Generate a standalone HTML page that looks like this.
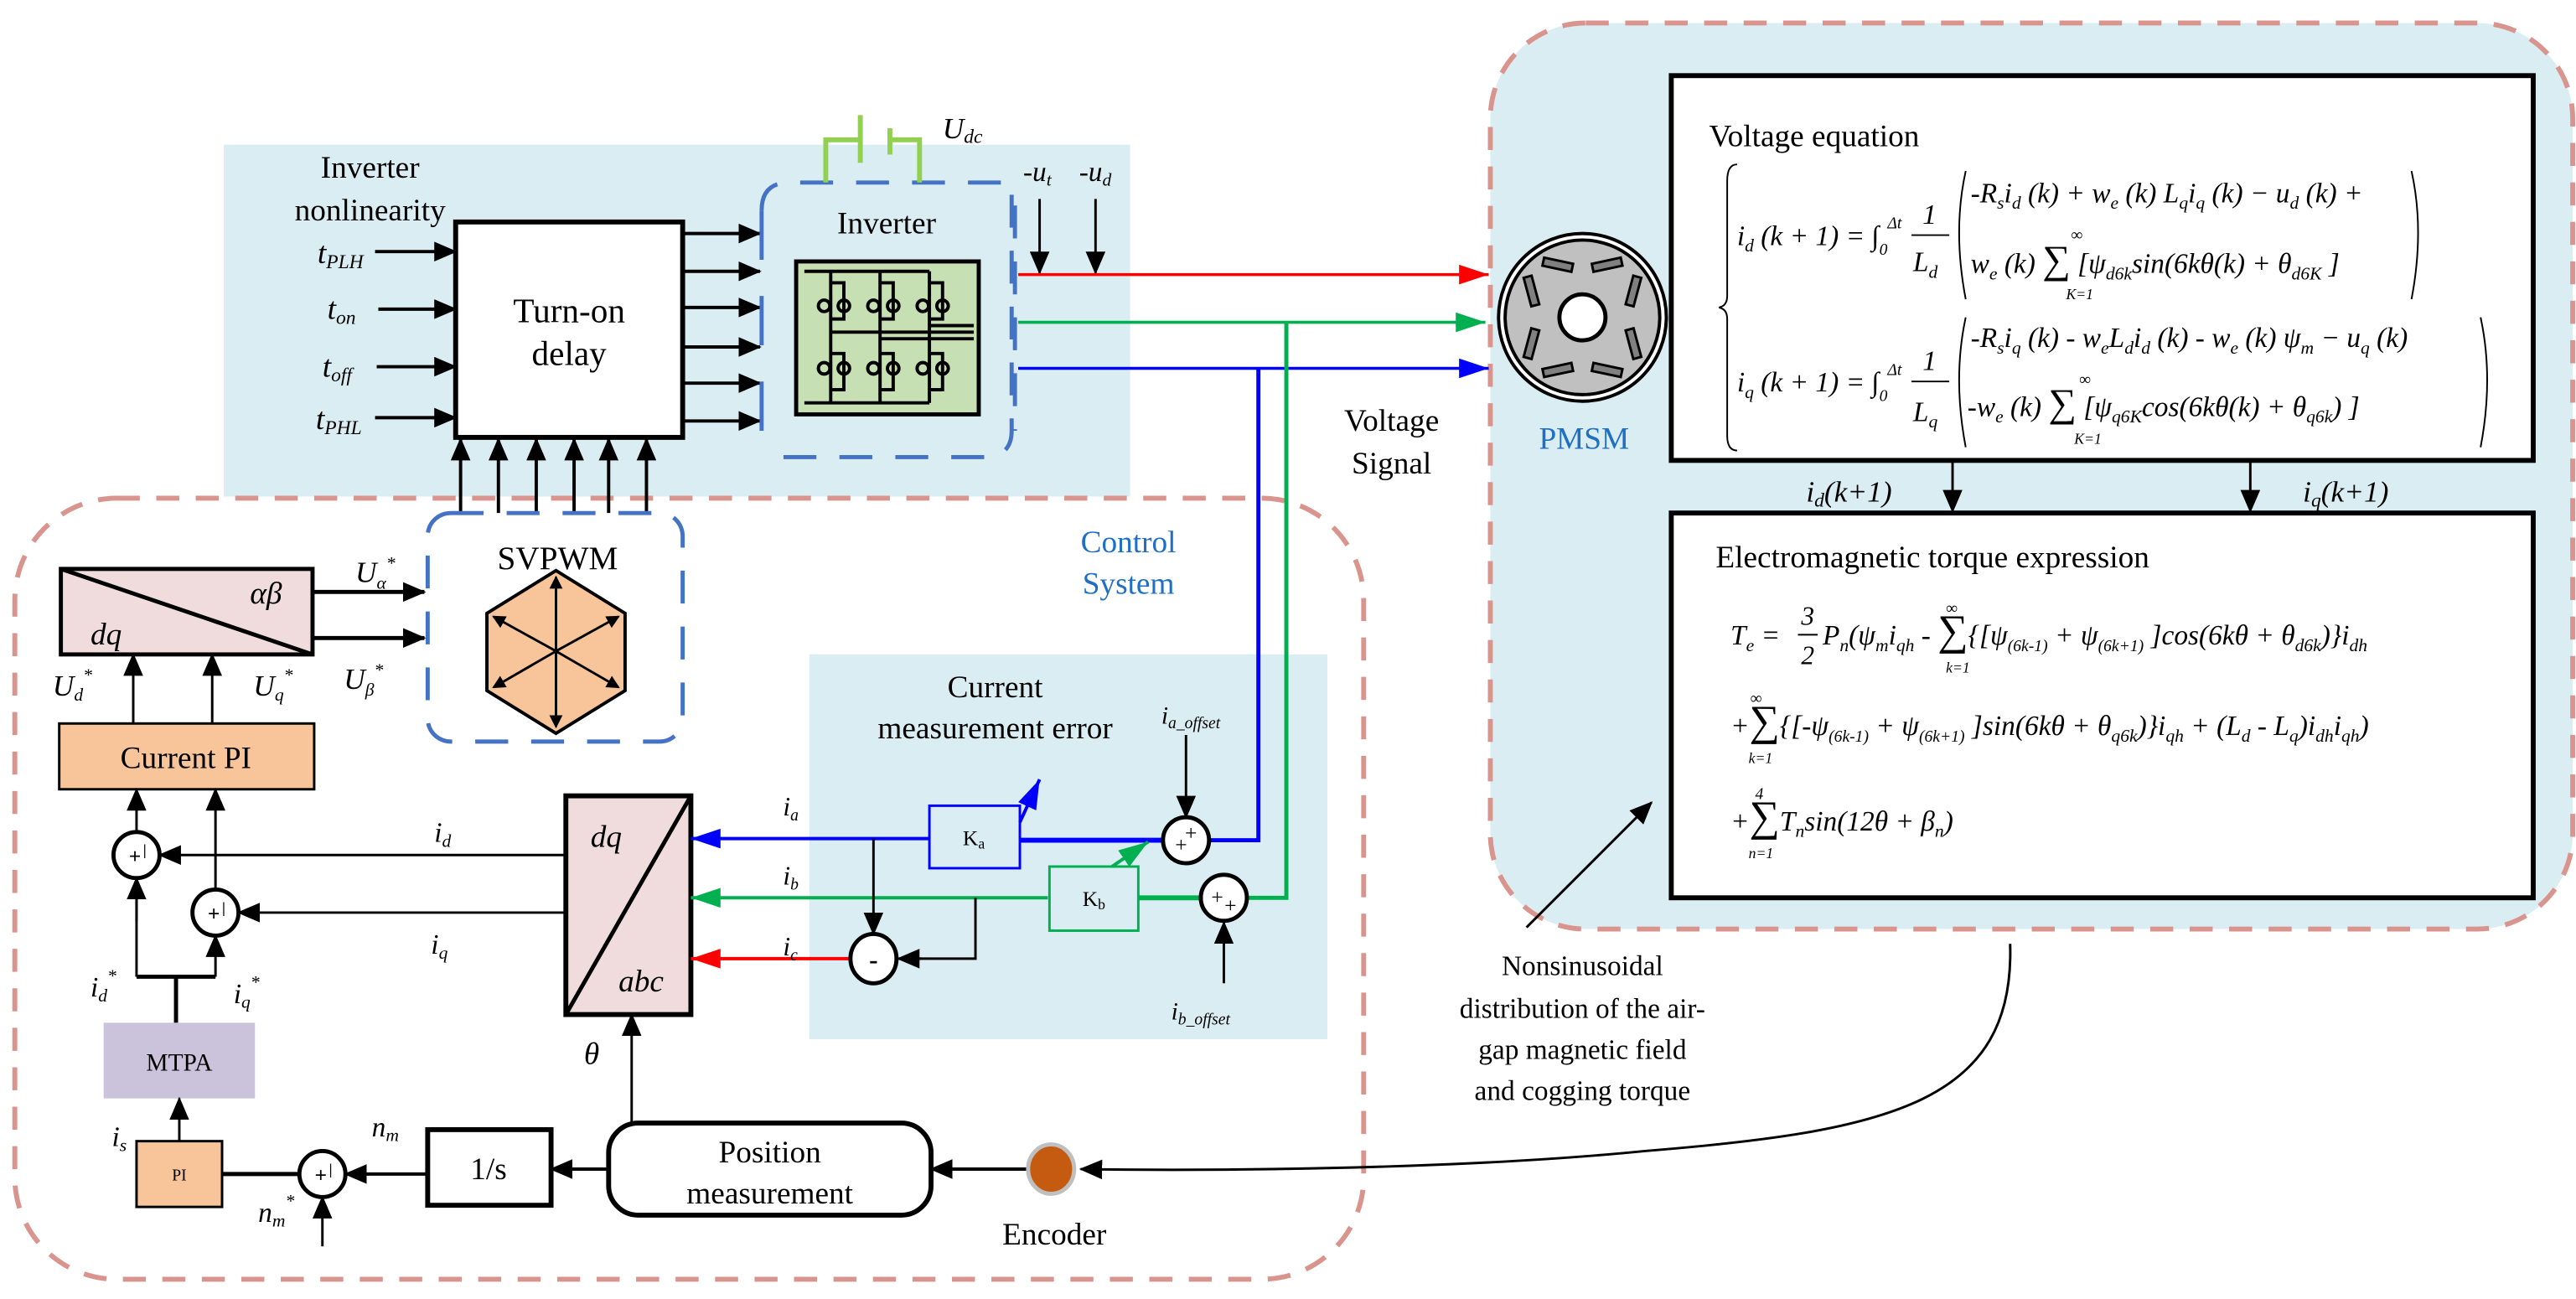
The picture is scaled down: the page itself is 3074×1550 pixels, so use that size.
<!DOCTYPE html>
<html><head><meta charset="utf-8"><style>
html,body{margin:0;padding:0;background:#fff;}
svg{display:block;}
text{font-family:"Liberation Serif",serif;fill:#000;}
.it{font-style:italic;}
</style></head><body>
<svg width="3074" height="1550" viewBox="0 0 1566 790" preserveAspectRatio="none" xmlns="http://www.w3.org/2000/svg">
<defs>
<marker id="ab" markerUnits="userSpaceOnUse" markerWidth="14" markerHeight="12" refX="13" refY="6" orient="auto"><path d="M0,0 L14,6 L0,12 z" fill="#000"/></marker>
<marker id="as" markerUnits="userSpaceOnUse" markerWidth="10" markerHeight="8" refX="10" refY="4" orient="auto"><path d="M0,0 L10,4 L0,8 z" fill="#000"/></marker>
<marker id="ar" markerUnits="userSpaceOnUse" markerWidth="18" markerHeight="12" refX="18" refY="6" orient="auto"><path d="M0,0 L18,6 L0,12 z" fill="#ff0000"/></marker>
<marker id="ag" markerUnits="userSpaceOnUse" markerWidth="18" markerHeight="12" refX="18" refY="6" orient="auto"><path d="M0,0 L18,6 L0,12 z" fill="#00b050"/></marker>
<marker id="abl" markerUnits="userSpaceOnUse" markerWidth="18" markerHeight="12" refX="18" refY="6" orient="auto"><path d="M0,0 L18,6 L0,12 z" fill="#0000ff"/></marker>
<marker id="ak" markerUnits="userSpaceOnUse" markerWidth="8" markerHeight="8" refX="7" refY="4" orient="auto"><path d="M0,0 L8,4 L0,8 z" fill="#000"/></marker>
</defs>

<!-- panels -->
<rect x="136" y="88" width="551" height="214" fill="#daedf3"/>
<rect x="492" y="398" width="315" height="234" fill="#daedf3"/>
<rect x="906" y="14" width="658" height="551" rx="58" fill="#daedf3" stroke="#d9948e" stroke-width="3" stroke-dasharray="14 10"/>
<rect x="9" y="303" width="820" height="475" rx="62" fill="none" stroke="#d9948e" stroke-width="3" stroke-dasharray="14 10"/>

<!-- Inverter nonlinearity -->
<text x="225" y="108" font-size="19" text-anchor="middle">Inverter</text>
<text x="225" y="134" font-size="19" text-anchor="middle">nonlinearity</text>
<rect x="277" y="135" width="138" height="131" fill="#fff" stroke="#000" stroke-width="3"/>
<text x="346" y="196" font-size="21" text-anchor="middle">Turn-on</text>
<text x="346" y="222" font-size="21" text-anchor="middle">delay</text>
<g stroke="#000" stroke-width="2">
<line x1="228" y1="153" x2="277" y2="153" marker-end="url(#ab)"/>
<line x1="230" y1="188" x2="277" y2="188" marker-end="url(#ab)"/>
<line x1="229" y1="223" x2="277" y2="223" marker-end="url(#ab)"/>
<line x1="228" y1="254" x2="277" y2="254" marker-end="url(#ab)"/>
<line x1="415" y1="142" x2="462" y2="142" marker-end="url(#ab)"/>
<line x1="415" y1="165" x2="462" y2="165" marker-end="url(#ab)"/>
<line x1="415" y1="187" x2="462" y2="187" marker-end="url(#ab)"/>
<line x1="415" y1="211" x2="462" y2="211" marker-end="url(#ab)"/>
<line x1="415" y1="233" x2="462" y2="233" marker-end="url(#ab)"/>
<line x1="415" y1="256" x2="462" y2="256" marker-end="url(#ab)"/>
<line x1="280" y1="312" x2="280" y2="267" marker-end="url(#ab)"/>
<line x1="303" y1="312" x2="303" y2="267" marker-end="url(#ab)"/>
<line x1="326" y1="312" x2="326" y2="267" marker-end="url(#ab)"/>
<line x1="349" y1="312" x2="349" y2="267" marker-end="url(#ab)"/>
<line x1="370" y1="312" x2="370" y2="267" marker-end="url(#ab)"/>
<line x1="393" y1="312" x2="393" y2="267" marker-end="url(#ab)"/>
</g>
<text x="193" y="160" font-size="19" class="it">t<tspan font-size="12" dy="3">PLH</tspan></text>
<text x="199" y="194" font-size="19" class="it">t<tspan font-size="12" dy="3">on</tspan></text>
<text x="196" y="229" font-size="19" class="it">t<tspan font-size="12" dy="3">off</tspan></text>
<text x="192" y="261" font-size="19" class="it">t<tspan font-size="12" dy="3">PHL</tspan></text>

<!-- Inverter -->
<path d="M463,128 Q463,111 480,111 L615,111 L615,262 Q615,278 598,278 L476,278" fill="none" stroke="#4472c4" stroke-width="2.5" stroke-dasharray="20 14"/>
<line x1="463" y1="128" x2="463" y2="278" stroke="#4472c4" stroke-width="2.5" stroke-dasharray="30 22"/>
<g stroke="#92d050" stroke-width="3" fill="none">
<path d="M502,111 L502,85 L523,85"/><line x1="523" y1="70" x2="523" y2="99"/>
<path d="M559,111 L559,85 L541,85"/><line x1="541" y1="78" x2="541" y2="94"/>
</g>
<text x="573" y="84" font-size="18" class="it">U<tspan font-size="12" dy="3">dc</tspan></text>
<text x="539" y="142" font-size="19" text-anchor="middle">Inverter</text>
<rect x="484" y="159" width="111" height="93" fill="#c6e0b4" stroke="#000" stroke-width="2.5"/>
<g stroke="#000" stroke-width="2" fill="none">
<line x1="489" y1="165" x2="565" y2="165"/><line x1="489" y1="245" x2="565" y2="245"/>
<line x1="505" y1="165" x2="505" y2="245"/><line x1="535" y1="165" x2="535" y2="245"/><line x1="565" y1="165" x2="565" y2="245"/>
<line x1="505" y1="202" x2="592" y2="202"/><line x1="535" y1="206" x2="592" y2="206"/><line x1="565" y1="198" x2="592" y2="198"/>
<path d="M505,172 h8 v22 h-8"/><path d="M535,172 h8 v22 h-8"/><path d="M565,172 h8 v22 h-8"/>
<path d="M505,215 h8 v22 h-8"/><path d="M535,215 h8 v22 h-8"/><path d="M565,215 h8 v22 h-8"/>
<circle cx="501" cy="186" r="3.5"/><circle cx="513" cy="186" r="3.5"/><circle cx="531" cy="186" r="3.5"/><circle cx="543" cy="186" r="3.5"/><circle cx="561" cy="186" r="3.5"/><circle cx="573" cy="186" r="3.5"/>
<circle cx="501" cy="224" r="3.5"/><circle cx="513" cy="224" r="3.5"/><circle cx="531" cy="224" r="3.5"/><circle cx="543" cy="224" r="3.5"/><circle cx="561" cy="224" r="3.5"/><circle cx="573" cy="224" r="3.5"/>
</g>
<g stroke="#4472c4" stroke-width="2.5" stroke-dasharray="20 14">
<line x1="617" y1="125" x2="617" y2="262"/>
</g>
<text x="622" y="110" font-size="17" class="it">-u<tspan font-size="11" dy="3">t</tspan></text>
<text x="656" y="110" font-size="17" class="it">-u<tspan font-size="11" dy="3">d</tspan></text>
<line x1="632" y1="121" x2="632" y2="166" stroke="#000" stroke-width="1.5" marker-end="url(#ab)"/>
<line x1="666" y1="121" x2="666" y2="166" stroke="#000" stroke-width="1.5" marker-end="url(#ab)"/>

<!-- three-phase lines -->
<line x1="619" y1="167" x2="905" y2="167" stroke="#ff0000" stroke-width="1.8" marker-end="url(#ar)"/>
<line x1="619" y1="196" x2="903" y2="196" stroke="#00b050" stroke-width="1.8" marker-end="url(#ag)"/>
<line x1="619" y1="224" x2="905" y2="224" stroke="#0000ff" stroke-width="1.8" marker-end="url(#abl)"/>
<polyline points="782,196 782,546 758,546" fill="none" stroke="#00b050" stroke-width="2.5"/>
<polyline points="765,224 765,511 735,511" fill="none" stroke="#0000ff" stroke-width="2.5"/>

<text x="846" y="262" font-size="19" text-anchor="middle">Voltage</text>
<text x="846" y="288" font-size="19" text-anchor="middle">Signal</text>
<text x="686" y="336" font-size="19" text-anchor="middle" style="fill:#1f6fc5">Control</text>
<text x="686" y="361" font-size="19" text-anchor="middle" style="fill:#1f6fc5">System</text>

<!-- PMSM -->
<circle cx="962" cy="193" r="51" fill="#fff" stroke="#000" stroke-width="2"/>
<circle cx="962" cy="193" r="47" fill="#c0c0c0" stroke="#000" stroke-width="2"/>
<circle cx="962" cy="193" r="14" fill="#fff" stroke="#000" stroke-width="2.5"/>
<g fill="#808080" stroke="#000" stroke-width="1.5">
<rect x="-9" y="-2.5" width="18" height="5" transform="translate(947,161) rotate(12)"/>
<rect x="-9" y="-2.5" width="18" height="5" transform="translate(977,161) rotate(-12)"/>
<rect x="-9" y="-2.5" width="18" height="5" transform="translate(947,225) rotate(-12)"/>
<rect x="-9" y="-2.5" width="18" height="5" transform="translate(977,225) rotate(12)"/>
<rect x="-2.5" y="-9" width="5" height="18" transform="translate(931,177) rotate(-15)"/>
<rect x="-2.5" y="-9" width="5" height="18" transform="translate(931,209) rotate(15)"/>
<rect x="-2.5" y="-9" width="5" height="18" transform="translate(993,177) rotate(15)"/>
<rect x="-2.5" y="-9" width="5" height="18" transform="translate(993,209) rotate(-15)"/>
</g>
<text x="963" y="273" font-size="19" text-anchor="middle" style="fill:#1f6fc5">PMSM</text>

<!-- Voltage equation box -->
<rect x="1016" y="46" width="524" height="234" fill="#fff" stroke="#000" stroke-width="3"/>
<text x="1039" y="89" font-size="19">Voltage equation</text>
<path d="M1056,100 Q1050,100 1050,110 L1050,180 Q1050,186 1045,187 Q1050,188 1050,194 L1050,265 Q1050,274 1056,274" fill="none" stroke="#000" stroke-width="1"/>
<g font-size="17" class="it">
<text x="1056" y="149" class="it">i<tspan font-size="11" dy="4">d</tspan><tspan dy="-4"> (k + 1) = ∫</tspan><tspan font-size="10" dy="6">0</tspan><tspan font-size="10" dy="-16">Δt</tspan></text>
<text x="1173" y="136" font-size="17" text-anchor="middle">1</text>
<line x1="1162" y1="143" x2="1185" y2="143" stroke="#000"/>
<text x="1163" y="165" class="it">L<tspan font-size="11" dy="4">d</tspan></text>
<text x="1198" y="123" class="it">-R<tspan font-size="11" dy="4">s</tspan><tspan dy="-4">i</tspan><tspan font-size="11" dy="4">d</tspan><tspan dy="-4"> (k) + w</tspan><tspan font-size="11" dy="4">e</tspan><tspan dy="-4"> (k) L</tspan><tspan font-size="11" dy="4">q</tspan><tspan dy="-4">i</tspan><tspan font-size="11" dy="4">q</tspan><tspan dy="-4"> (k) − u</tspan><tspan font-size="11" dy="4">d</tspan><tspan dy="-4"> (k) +</tspan></text>
<text x="1198" y="166" class="it">w<tspan font-size="11" dy="4">e</tspan><tspan dy="-4"> (k) </tspan><tspan font-style="normal" font-size="24">∑</tspan><tspan> [ψ</tspan><tspan font-size="11" dy="4">d6k</tspan><tspan dy="-4">sin(6kθ(k) + θ</tspan><tspan font-size="11" dy="4">d6K</tspan><tspan dy="-4"> ]</tspan></text>
<text x="1196" y="253" class="it">-w<tspan font-size="11" dy="4">e</tspan><tspan dy="-4"> (k) </tspan><tspan font-style="normal" font-size="24">∑</tspan><tspan> [ψ</tspan><tspan font-size="11" dy="4">q6K</tspan><tspan dy="-4">cos(6kθ(k) + θ</tspan><tspan font-size="11" dy="4">q6k</tspan><tspan dy="-4">) ]</tspan></text>
<text x="1056" y="238" class="it">i<tspan font-size="11" dy="4">q</tspan><tspan dy="-4"> (k + 1) = ∫</tspan><tspan font-size="10" dy="6">0</tspan><tspan font-size="10" dy="-16">Δt</tspan></text>
<text x="1173" y="225" font-size="17" text-anchor="middle">1</text>
<line x1="1162" y1="232" x2="1185" y2="232" stroke="#000"/>
<text x="1163" y="256" class="it">L<tspan font-size="11" dy="4">q</tspan></text>
<text x="1198" y="211" class="it">-R<tspan font-size="11" dy="4">s</tspan><tspan dy="-4">i</tspan><tspan font-size="11" dy="4">q</tspan><tspan dy="-4"> (k) - w</tspan><tspan font-size="11" dy="4">e</tspan><tspan dy="-4">L</tspan><tspan font-size="11" dy="4">d</tspan><tspan dy="-4">i</tspan><tspan font-size="11" dy="4">d</tspan><tspan dy="-4"> (k) - w</tspan><tspan font-size="11" dy="4">e</tspan><tspan dy="-4"> (k) ψ</tspan><tspan font-size="11" dy="4">m</tspan><tspan dy="-4"> − u</tspan><tspan font-size="11" dy="4">q</tspan><tspan dy="-4"> (k)</tspan></text>
</g>
<text x="1256" y="182" font-size="9" class="it">K=1</text>
<text x="1261" y="270" font-size="9" class="it">K=1</text>
<text x="1259" y="146" font-size="10">∞</text>
<text x="1264" y="234" font-size="10">∞</text>
<g fill="none" stroke="#000" stroke-width="1">
<path d="M1195,104 Q1187,140 1195,182"/><path d="M1466,104 Q1474,140 1466,182"/>
<path d="M1195,193 Q1187,230 1195,272"/><path d="M1508,193 Q1516,230 1508,272"/>
</g>
<line x1="1187" y1="280" x2="1187" y2="311" stroke="#000" stroke-width="1.5" marker-end="url(#ab)"/>
<line x1="1368" y1="280" x2="1368" y2="311" stroke="#000" stroke-width="1.5" marker-end="url(#ab)"/>
<text x="1098" y="305" font-size="18" class="it">i<tspan font-size="12" dy="3">d</tspan><tspan dy="-3">(k+1)</tspan></text>
<text x="1400" y="305" font-size="18" class="it">i<tspan font-size="12" dy="3">q</tspan><tspan dy="-3">(k+1)</tspan></text>

<!-- Torque box -->
<rect x="1016" y="312" width="524" height="234" fill="#fff" stroke="#000" stroke-width="3"/>
<text x="1043" y="345" font-size="19">Electromagnetic torque expression</text>
<g font-size="17" class="it">
<text x="1052" y="392" class="it">T<tspan font-size="11" dy="4">e</tspan><tspan dy="-4"> = </tspan></text>
<text x="1095" y="380" font-size="16" class="it">3</text><line x1="1093" y1="386" x2="1105" y2="386" stroke="#000"/><text x="1095" y="404" font-size="16" class="it">2</text>
<text x="1108" y="392" class="it">P<tspan font-size="11" dy="4">n</tspan><tspan dy="-4">(ψ</tspan><tspan font-size="11" dy="4">m</tspan><tspan dy="-4">i</tspan><tspan font-size="11" dy="4">qh</tspan><tspan dy="-4"> - </tspan><tspan font-style="normal" font-size="26">∑</tspan><tspan>{[ψ</tspan><tspan font-size="10" dy="4">(6k-1)</tspan><tspan dy="-4"> + ψ</tspan><tspan font-size="10" dy="4">(6k+1)</tspan><tspan dy="-4"> ]cos(6kθ + θ</tspan><tspan font-size="11" dy="4">d6k</tspan><tspan dy="-4">)}i</tspan><tspan font-size="11" dy="4">dh</tspan></text>
<text x="1052" y="447" class="it">+<tspan font-style="normal" font-size="26">∑</tspan><tspan>{[-ψ</tspan><tspan font-size="10" dy="4">(6k-1)</tspan><tspan dy="-4"> + ψ</tspan><tspan font-size="10" dy="4">(6k+1)</tspan><tspan dy="-4"> ]sin(6kθ + θ</tspan><tspan font-size="11" dy="4">q6k</tspan><tspan dy="-4">)}i</tspan><tspan font-size="11" dy="4">qh</tspan><tspan dy="-4"> + (L</tspan><tspan font-size="11" dy="4">d</tspan><tspan dy="-4"> - L</tspan><tspan font-size="11" dy="4">q</tspan><tspan dy="-4">)i</tspan><tspan font-size="11" dy="4">dh</tspan><tspan dy="-4">i</tspan><tspan font-size="11" dy="4">qh</tspan><tspan dy="-4">)</tspan></text>
<text x="1052" y="505" class="it">+<tspan font-style="normal" font-size="26">∑</tspan><tspan>T</tspan><tspan font-size="11" dy="4">n</tspan><tspan dy="-4">sin(12θ + β</tspan><tspan font-size="11" dy="4">n</tspan><tspan dy="-4">)</tspan></text>
</g>
<text x="1183" y="409" font-size="9" class="it">k=1</text>
<text x="1183" y="373" font-size="10">∞</text>
<text x="1063" y="464" font-size="9" class="it">k=1</text>
<text x="1064" y="428" font-size="10">∞</text>
<text x="1063" y="522" font-size="9" class="it">n=1</text>
<text x="1067" y="486" font-size="10" class="it">4</text>

<!-- nonsinusoidal annotation -->
<line x1="928" y1="564" x2="1004" y2="488" stroke="#000" stroke-width="1.5" marker-end="url(#ab)"/>
<g font-size="17" text-anchor="middle">
<text x="962" y="593">Nonsinusoidal</text>
<text x="962" y="619">distribution of the air-</text>
<text x="962" y="644">gap magnetic field</text>
<text x="962" y="669">and cogging torque</text>
</g>
<path d="M1222,574 C1225,670 1150,688 1000,700 C880,712 720,712 657,711" fill="none" stroke="#000" stroke-width="1.5" marker-end="url(#ab)"/>

<!-- SVPWM -->
<rect x="260" y="312" width="155" height="139" rx="14" fill="none" stroke="#4472c4" stroke-width="2.5" stroke-dasharray="20 14"/>
<text x="339" y="346" font-size="20" text-anchor="middle">SVPWM</text>
<polygon points="338,347 380,373 380,420 338,446 296,420 296,373" fill="#f8c59a" stroke="#000" stroke-width="2"/>
<g stroke="#000" stroke-width="1.5">
<line x1="338" y1="396" x2="338" y2="351" marker-end="url(#ak)"/>
<line x1="338" y1="396" x2="338" y2="442" marker-end="url(#ak)"/>
<line x1="338" y1="396" x2="300" y2="375" marker-end="url(#ak)"/>
<line x1="338" y1="396" x2="376" y2="375" marker-end="url(#ak)"/>
<line x1="338" y1="396" x2="300" y2="418" marker-end="url(#ak)"/>
<line x1="338" y1="396" x2="376" y2="418" marker-end="url(#ak)"/>
</g>

<!-- dq/alpha beta -->
<rect x="37" y="346" width="153" height="52" fill="#f0dcdc" stroke="#000" stroke-width="2.5"/>
<line x1="37" y1="346" x2="190" y2="398" stroke="#000" stroke-width="2.5"/>
<text x="55" y="392" font-size="19" class="it">dq</text>
<text x="152" y="367" font-size="19" class="it">αβ</text>
<line x1="190" y1="360" x2="258" y2="360" stroke="#000" stroke-width="2.5" marker-end="url(#ab)"/>
<line x1="190" y1="388" x2="258" y2="388" stroke="#000" stroke-width="2.5" marker-end="url(#ab)"/>
<text x="216" y="354" font-size="18" class="it">U<tspan font-size="11" dy="4">α</tspan><tspan font-size="11" dy="-12">*</tspan></text>
<text x="209" y="419" font-size="18" class="it">U<tspan font-size="11" dy="4">β</tspan><tspan font-size="11" dy="-12">*</tspan></text>
<text x="32" y="423" font-size="18" class="it">U<tspan font-size="11" dy="3">d</tspan><tspan font-size="11" dy="-12">*</tspan></text>
<text x="154" y="423" font-size="18" class="it">U<tspan font-size="11" dy="3">q</tspan><tspan font-size="11" dy="-12">*</tspan></text>
<line x1="81" y1="440" x2="81" y2="398" stroke="#000" stroke-width="1.5" marker-end="url(#ab)"/>
<line x1="129" y1="440" x2="129" y2="398" stroke="#000" stroke-width="1.5" marker-end="url(#ab)"/>

<rect x="36" y="440" width="155" height="40" fill="#f8c59a" stroke="#000" stroke-width="1.5"/>
<text x="113" y="467" font-size="19" text-anchor="middle">Current PI</text>

<!-- sum circles -->
<g stroke="#000" stroke-width="2.5" fill="#fff">
<ellipse cx="83" cy="520" rx="14" ry="14"/>
<ellipse cx="131" cy="555" rx="14" ry="14"/>
<ellipse cx="196" cy="714" rx="14" ry="14"/>
</g>
<g fill="none" stroke="#000" stroke-width="1.5">
<line x1="83" y1="506" x2="83" y2="480" marker-end="url(#ab)"/>
<line x1="131" y1="541" x2="131" y2="480" marker-end="url(#ab)"/>
<line x1="344" y1="520" x2="97" y2="520" marker-end="url(#ab)"/>
<line x1="344" y1="555" x2="145" y2="555" marker-end="url(#ab)"/>
<polyline points="83,594 83,534"/><line x1="83" y1="560" x2="83" y2="534" marker-end="url(#ab)"/>
<polyline points="83,594 131,594"/><line x1="131" y1="594" x2="131" y2="569" marker-end="url(#ab)"/>
</g>
<line x1="107" y1="622" x2="107" y2="594" stroke="#000" stroke-width="2.5"/>
<line x1="83" y1="594" x2="131" y2="594" stroke="#000" stroke-width="2.5"/>
<g font-size="13" font-weight="bold" text-anchor="middle">
<text x="82" y="525">+</text><text x="88" y="520" font-size="9">|</text>
<text x="130" y="560">+</text><text x="136" y="555" font-size="9">|</text>
<text x="195" y="719">+</text><text x="201" y="714" font-size="9">|</text>
</g>
<text x="264" y="512" font-size="17" class="it">i<tspan font-size="11" dy="3">d</tspan></text>
<text x="262" y="580" font-size="17" class="it">i<tspan font-size="11" dy="3">q</tspan></text>
<text x="55" y="606" font-size="17" class="it">i<tspan font-size="11" dy="3">d</tspan><tspan font-size="11" dy="-12">*</tspan></text>
<text x="142" y="610" font-size="17" class="it">i<tspan font-size="11" dy="3">q</tspan><tspan font-size="11" dy="-12">*</tspan></text>

<rect x="63" y="622" width="92" height="46" fill="#cbc3db"/>
<text x="109" y="651" font-size="15" text-anchor="middle">MTPA</text>
<line x1="109" y1="694" x2="109" y2="668" stroke="#000" stroke-width="1.5" marker-end="url(#ab)"/>
<rect x="83" y="694" width="52" height="40" fill="#f8c59a" stroke="#000" stroke-width="1.5"/>
<text x="109" y="718" font-size="10" text-anchor="middle">PI</text>
<text x="68" y="697" font-size="17" class="it">i<tspan font-size="11" dy="3">s</tspan></text>
<line x1="135" y1="714" x2="182" y2="714" stroke="#000" stroke-width="2.5"/>
<line x1="196" y1="758" x2="196" y2="728" stroke="#000" stroke-width="1.5" marker-end="url(#ab)"/>
<line x1="260" y1="714" x2="210" y2="714" stroke="#000" stroke-width="2" marker-end="url(#ab)"/>
<text x="226" y="691" font-size="17" class="it">n<tspan font-size="11" dy="3">m</tspan></text>
<text x="157" y="743" font-size="17" class="it">n<tspan font-size="11" dy="3">m</tspan><tspan font-size="11" dy="-12">*</tspan></text>

<rect x="260" y="687" width="75" height="46" fill="#fff" stroke="#000" stroke-width="3"/>
<text x="297" y="717" font-size="19" text-anchor="middle">1/s</text>
<line x1="370" y1="711" x2="335" y2="711" stroke="#000" stroke-width="2" marker-end="url(#ab)"/>
<rect x="370" y="683" width="196" height="56" rx="18" fill="#fff" stroke="#000" stroke-width="3"/>
<text x="468" y="707" font-size="19" text-anchor="middle">Position</text>
<text x="468" y="732" font-size="19" text-anchor="middle">measurement</text>
<line x1="384" y1="683" x2="384" y2="617" stroke="#000" stroke-width="1.5" marker-end="url(#ab)"/>
<text x="355" y="647" font-size="19" class="it">θ</text>
<line x1="625" y1="711" x2="566" y2="711" stroke="#000" stroke-width="2" marker-end="url(#ab)"/>
<ellipse cx="639" cy="711" rx="14" ry="15" fill="#c55a11" stroke="#bfbfbf" stroke-width="2.5"/>
<text x="641" y="757" font-size="19" text-anchor="middle">Encoder</text>

<!-- dq/abc -->
<rect x="344" y="484" width="76" height="133" fill="#f0dcdc" stroke="#000" stroke-width="3"/>
<line x1="420" y1="484" x2="344" y2="617" stroke="#000" stroke-width="2.5"/>
<text x="359" y="515" font-size="19" class="it">dq</text>
<text x="376" y="603" font-size="19" class="it">abc</text>

<!-- Current measurement error -->
<text x="605" y="424" font-size="19" text-anchor="middle">Current</text>
<text x="605" y="449" font-size="19" text-anchor="middle">measurement error</text>
<line x1="565" y1="510" x2="420" y2="510" stroke="#0000ff" stroke-width="2" marker-end="url(#abl)"/>
<line x1="707" y1="511" x2="620" y2="511" stroke="#0000ff" stroke-width="3"/>
<line x1="637" y1="546" x2="420" y2="546" stroke="#00b050" stroke-width="2" marker-end="url(#ag)"/>
<line x1="730" y1="546" x2="692" y2="546" stroke="#00b050" stroke-width="3"/>
<line x1="517" y1="583" x2="420" y2="583" stroke="#ff0000" stroke-width="2" marker-end="url(#ar)"/>
<rect x="565" y="490" width="55" height="38" fill="#daedf3" stroke="#0000ff" stroke-width="1.5"/>
<text x="592" y="514" font-size="13" text-anchor="middle">K<tspan font-size="9" dy="2">a</tspan></text>
<line x1="620" y1="500" x2="632" y2="474" stroke="#0000ff" stroke-width="2" marker-end="url(#abl)"/>
<rect x="638" y="527" width="54" height="39" fill="#daedf3" stroke="#00b050" stroke-width="1.5"/>
<text x="665" y="551" font-size="13" text-anchor="middle">K<tspan font-size="9" dy="2">b</tspan></text>
<line x1="676" y1="527" x2="698" y2="512" stroke="#00b050" stroke-width="2" marker-end="url(#ag)"/>
<g stroke="#000" stroke-width="1.5" fill="none">
<line x1="531" y1="510" x2="531" y2="568" marker-end="url(#ab)"/>
<polyline points="593,546 593,583 547,583"/><line x1="560" y1="583" x2="546" y2="583" marker-end="url(#ab)"/>
<line x1="721" y1="447" x2="721" y2="497" marker-end="url(#ab)"/>
<line x1="744" y1="598" x2="744" y2="561" marker-end="url(#ab)"/>
</g>
<g stroke="#000" stroke-width="2.5" fill="#fff">
<ellipse cx="531" cy="583" rx="14" ry="15"/>
<ellipse cx="721" cy="511" rx="14" ry="14"/>
<ellipse cx="744" cy="546" rx="14" ry="14"/>
</g>
<text x="531" y="589" font-size="16" font-weight="bold" text-anchor="middle">-</text>
<text x="718" y="518" font-size="13" text-anchor="middle">+</text><text x="724" y="511" font-size="13" text-anchor="middle">+</text>
<text x="740" y="550" font-size="13" text-anchor="middle">+</text><text x="748" y="555" font-size="13" text-anchor="middle">+</text>
<text x="476" y="496" font-size="16" class="it">i<tspan font-size="10" dy="3">a</tspan></text>
<text x="476" y="538" font-size="16" class="it">i<tspan font-size="10" dy="3">b</tspan></text>
<text x="476" y="581" font-size="16" class="it">i<tspan font-size="10" dy="3">c</tspan></text>
<text x="706" y="440" font-size="15" class="it">i<tspan font-size="10" dy="3">a_offset</tspan></text>
<text x="712" y="620" font-size="15" class="it">i<tspan font-size="10" dy="3">b_offset</tspan></text>
</svg>
</body></html>
